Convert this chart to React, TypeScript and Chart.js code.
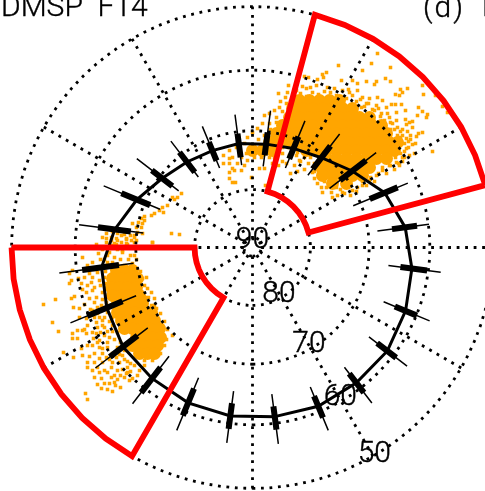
import React, { useEffect, useRef } from "react";
import { Chart, registerables } from "chart.js";

Chart.register(...registerables);

const mltBins = [0.5,1.5,2.5,3.5,4.5,5.5,6.5,7.5,8.5,9.5,10.5,11.5,12.5,13.5,14.5,15.5,16.5,17.5,18.5,19.5,20.5,21.5,22.5,23.5];
const latMid = [61.1,60.9,61.1,61.2,61.9,62.7,63.8,65.6,68.5,70.6,71.6,72.1,72,72,71.5,70.5,68.6,66.3,64.1,63.2,62.3,62,61.5,61.2];
const latBarHigh = [62.8,62.7,63,63.3,63.8,64.6,66,68.3,71.1,73,73.5,74,74.35,73.85,73.7,72.65,71,69,67,66,65.3,64.3,64,63.3];
const latBarLow = [59,58.9,59.1,59.4,59.9,60.2,61.85,63.3,65.6,68.1,69.45,70.1,70.3,70.45,69.45,68.3,65.8,63.5,60.9,59.75,59.6,59.1,59.25,59.1];
const latWhiskerHigh = [64.8,64.3,64.3,65,65.8,66.6,68.45,71.3,73.3,74.35,75.2,75.9,75.7,75.2,74.7,74,72.8,71.1,69.45,68.45,67.45,66.6,65.95,65.3];
const latWhiskerLow = [56.7,56.7,57,57.2,57.7,58,59.9,61.5,63.5,65.6,66.6,66.45,67.1,67.6,67.1,65.15,62.65,60.4,57.2,56.85,56.7,56.85,56.7,56.85];

const gridLats = [50,60,70,80,88.5];
const gridMlts = [0,2,4,6,8,10,12,14,16,18,20,22];
const latLabels = ["50","60","70","80"];
const latLabelShift = [0.4,0.9,1.05,1.05];
const sectorDawn = [7,7.5,8,8.5,9,9.5,10,10.5,11];
const sectorDusk = [18,18.5,19,19.5,20,20.5,21,21.5,22];
const sectorLatLow = 50;
const sectorLatHigh = 80;

// Orange particle cloud, plane coordinates east / north of the pole.
const dawnCoreX = [47,57,67,77,87,40,50,60,70,80,90,100,37,47,57,67,77,87,97,107,117,30,40,50,60,70,80,90,100,110,120,129,24,34,44,54,64,74,84,94,104,114,124,134,17,27,37,47,57,67,77,87,97,107,117,127,137,145,0,10,20,54,64,74,84,94,104,114,124,134,142,74,84,94,104,114,124,134,69,77,87,97,107,117,70,80,90,100,110,80,94];
const dawnCoreY = [147,147,147,147,147,139,139,139,139,139,139,139,130,130,130,130,130,130,130,130,130,122,122,122,122,122,122,122,122,122,122,122,114,114,114,114,114,114,114,114,114,114,114,114,105,105,105,105,105,105,105,105,105,105,105,105,105,105,97,97,97,97,97,97,97,97,97,97,97,97,97,89,89,89,89,89,89,89,80,80,80,80,80,80,72,72,72,72,72,64,64];
const duskCoreX = [-136,-128,-120,-140,-131,-123,-115,-141,-133,-125,-116,-140,-131,-123,-113,-135,-126,-118,-110,-135,-126,-118,-110,-101,-131,-123,-115,-106,-98,-128,-120,-111,-103,-93,-116,-108,-100,-92,-120,-111,-103,-95,-113,-105,-98];
const duskCoreY = [-23,-23,-23,-31,-31,-31,-31,-40,-40,-40,-40,-48,-48,-48,-48,-56,-56,-56,-56,-65,-65,-65,-65,-65,-73,-73,-73,-73,-73,-81,-81,-81,-81,-81,-90,-90,-90,-90,-98,-98,-98,-98,-106,-106,-106];
const dawnDotX = [125,119,110,86,74,70,52,56,65,71,89,105,100,114,124,122,133,138,138,148,150,155,170,183,171,166,170,175,174,165,190,195,147,143,139,143,149,153,144,157,160,154,145,170,166,163,160,162,157,180,164,26,36,42,54,97,105,110,117,125,130,124,134,137,144,135,129,122,114,109,150,154,145,154,150,144,137,130,124,117,110,100,90,80,70,69,79,85,62,65,60,97,105,47,52,42,34,45,37,30,30,25,22,17,9,2,12,7,-1,13,34,27,22,17,12,24,10,5,0,17];
const dawnDotY = [194,184,177,182,175,173,171,170,168,170,167,164,167,166,166,163,169,166,180,158,155,159,162,152,153,140,136,133,130,132,141,135,152,153,143,143,143,137,135,125,126,123,120,115,114,104,103,94,92,96,111,154,162,158,159,155,157,150,149,150,147,142,140,130,127,134,134,137,144,140,112,109,112,99,90,85,82,77,72,67,62,57,55,50,55,60,55,52,69,64,75,62,60,87,90,82,84,95,92,94,100,95,90,90,90,90,79,79,70,62,144,140,137,134,132,130,124,119,115,124];
const dawnFringeX = [62,66,72,74,84,88,92,98,104,110,114,118,122,126,130,134,138,142,146,150,148,152,156,158,152,148,142,140,138,42,48,54,60,66,72,78,84,90,94,100,104,108,112,116,120,126,128,132,138,33,38,28,30,24,18,12,6,20,13,40,44,36,46,30,24,48,56,58,62,64,52,45,38,30,26,20,155,150,158,148,153,160,156,143,152,147,35,44,50,58,64,75,82,96];
const dawnFringeY = [76,71,66,60,60,58,54,52,56,66,62,70,66,74,80,74,82,78,84,86,94,96,100,108,104,116,118,124,118,152,154,151,155,153,156,155,152,157,149,152,146,148,141,144,138,139,131,127,125,150,146,146,136,125,118,112,108,110,104,96,92,100,100,106,104,86,84,90,84,80,78,76,74,86,82,84,116,118,112,110,128,120,106,90,90,82,155,157,161,160,162,160,159,158];
const noonDotX = [-23,-29,-29,-23,-20,-15,-20,-23,-18,-11,-8,-5,-13,-5,-8,-16,-23,-20,-17,-6,-11,-23];
const noonDotY = [97,92,84,89,90,84,79,75,77,77,82,87,97,110,104,100,69,65,65,94,90,84];
const tailDotX = [-71,-75,-78,-80,-85,-90,-93,-89,-98,-101,-108,-111,-114,-110,-116,-120,-111,-108,-115,-110,-118,-121,-126,-131,-136,-141,-146,-138,-126,-118,-100,-81,-73];
const tailDotY = [54,50,48,50,42,40,37,35,34,32,31,29,25,24,20,24,20,27,15,14,10,7,9,5,9,7,5,4,4,5,5,14,13];
const duskDotX = [-209,-197,-200,-194,-189,-179,-167,-165,-181,-179,-173,-178,-170,-160,-154,-156,-150,-141,-135,-126,-118,-116,-100,-118,-116,-116,-183,-183,-181,-174,-171,-180,-163,-168,-161,-166,-160,-153,-156,-163,-168,-173,-170,-175,-180,-180,-175,-168,-166,-156,-159,-153,-171,-165,-158,-153,-170,-163,-165,-165,-158,-153,-146,-140,-133,-141,-135,-126,-120,-128,-123,-160,-158,-153,-148,-151,-155,-151,-143,-138,-145,-140,-132,-137,-125,-113,-101,-98,-101,-96,-107,-105,-110,-116,-80,-145,-140,-156,-153,-160,-151,-150,-140,-143,-136,-150,-160,-166,-150,-145,-155,-148,-143,-150,-146,-155,-145,-140,-148,-152,-145,-135,-138,-132,-128,-133,-128,-122,-118,-125,-130,-148,-143,-130,-124,-135,-128,-150,-140,-146,-128,-135];
const duskDotY = [-57,-52,-75,-84,-105,-110,-146,-152,-51,-60,-61,-49,-10,-15,-6,3,10,10,7,8,12,7,5,-8,-12,-21,-26,-36,-33,-31,-36,-23,-26,-30,-35,-45,-43,-33,-50,-51,-57,-70,-83,-83,-86,-91,-91,-82,-86,-86,-91,-93,-101,-98,-106,-100,-108,-109,-115,-120,-115,-111,-110,-115,-115,-120,-123,-126,-131,-130,-133,-123,-130,-125,-123,-131,-137,-141,-136,-135,-142,-144,-140,-138,-125,-123,-45,-51,-58,-61,-50,-41,-31,-26,-88,-100,-106,-75,-70,-63,-58,-73,-78,-90,-110,-101,-98,-71,-20,-15,-25,-30,-40,-45,-55,-60,-65,-70,-80,-85,-84,-85,-92,-95,-103,-107,-112,-116,-118,-120,-122,-12,-5,-5,-12,-2,0,-2,2,14,13,14];
const duskFringeX = [-165,-158,-152,-147,-160,-152,-146,-158,-165,-170,-150,-158,-148,-162,-155,-148,-143,-158,-165,-155,-150,-160,-148,-140,-155,-145,-150,-143,-135,-130,-125,-150,-155,-145,-138,-132,-148,-141,-135,-115,-122,-108,-145,-138,-132,-128,-122,-120,-140,-135,-145,-130,-136,-125,-122,-131,-140,-146,-106,-108,-104,-98,-92,-88,-85,-86,-88,-92,-100,-108,-112];
const duskFringeY = [-18,-22,-12,-24,-30,-38,-36,-40,-38,-42,-52,-55,-60,-62,-66,-70,-74,-70,-78,-80,-78,-85,-88,-84,-95,-95,-106,-112,-100,-108,-114,-115,-120,-125,-128,-128,-136,-130,-132,-128,-124,-118,-8,-10,-12,-18,-8,-16,-15,-17,-18,-3,3,3,12,12,16,9,-30,-38,-50,-58,-66,-74,-82,-92,-98,-106,-113,-113,-24];

const K = 662;
const ORANGE = "#FFA500";
const DEG = Math.PI / 180;
const project = (mlt: number, lat: number) => {
  const r = K * Math.tan(((90 - lat) / 2) * DEG);
  const a = mlt * 15 * DEG;
  return { x: r * Math.sin(a), y: -r * Math.cos(a) };
};
const GAP = { x: NaN, y: NaN };
const zip = (xs: number[], ys: number[]) => xs.map((x, i) => ({ x, y: ys[i] }));
const segments = (hi: number[], lo: number[]) =>
  mltBins.flatMap((m, i) => [project(m, hi[i]), project(m, lo[i]), GAP]);
const ringHours = Array.from({ length: 97 }, (_, i) => i / 4);
const sector = (hours: number[]) => [
  ...hours.map((h) => project(h, sectorLatLow)),
  ...[...hours].reverse().map((h) => project(h, sectorLatHigh)),
  project(hours[0], sectorLatLow),
];
const line = (data: any[], color: string, width: number, extra: any = {}) => ({
  data, showLine: true, borderColor: color, borderWidth: width, pointRadius: 0,
  tension: 0, spanGaps: false, fill: false, borderCapStyle: "butt", borderJoinStyle: "miter", ...extra,
});
const dots = (data: any[], radius: number, style: string) => ({
  data, showLine: false, pointStyle: style, pointRadius: radius,
  backgroundColor: ORANGE, borderWidth: 0, pointBorderWidth: 0,
});

const FONT = '300 30px Roboto, "Liberation Sans", sans-serif';

const textPlugin = {
  id: "texts",
  afterDatasetsDraw(chart: any) {
    const { ctx, scales } = chart;
    const at = (p: { x: number; y: number }) => [scales.x.getPixelForValue(p.x), scales.y.getPixelForValue(p.y)];
    const put = (t: string, x: number, y: number) => {
      ctx.fillText(t, x, y);
      ctx.strokeText(t, x, y);
    };
    ctx.save();
    ctx.fillStyle = "#000";
    ctx.strokeStyle = "#000";
    ctx.lineWidth = 0.4;
    ctx.font = FONT;
    ctx.textAlign = "center";
    ctx.textBaseline = "middle";
    latLabels.forEach((t, i) => {
      const [x, y] = at(project(2.05, Number(t) + latLabelShift[i]));
      put(t, x, y + 2);
    });
    const [cx, cy] = at({ x: 0, y: 0 });
    put("90", cx, cy - 7);
    ctx.textAlign = "left";
    ctx.textBaseline = "alphabetic";
    put("DMSP  F14", 1, 16);
    ctx.letterSpacing = "2px";
    put("(d)", 423, 17);
    ctx.letterSpacing = "0px";
    put("F", 482, 16);
    ctx.restore();
  },
};

export default function App() {
  const ref = useRef<HTMLCanvasElement>(null);
  useEffect(() => {
    document.body.style.margin = "0";
    const rings = gridLats.flatMap((lat) => [...ringHours.map((h) => project(h, lat)), GAP]);
    const rays = gridMlts.flatMap((m) => [project(m, gridLats[4]), project(m, gridLats[0]), GAP]);
    const dash = { borderDash: [2.8, 5.7] };
    const chart = new Chart(ref.current as HTMLCanvasElement, {
      type: "scatter",
      data: {
        datasets: [
          line(sector(sectorDawn), "#FF0000", 5.8),
          line(sector(sectorDusk), "#FF0000", 5.8),
          line([...mltBins, mltBins[0]].map((m, i) => project(m, latMid[i % 24])), "#000", 3),
          line(segments(latBarHigh, latBarLow), "#000", 6),
          line(segments(latWhiskerHigh, latWhiskerLow), "#000", 1.5),
          line(rings, "#000", 2.8, dash),
          line(rays, "#000", 2.8, dash),
          dots(zip(dawnDotX, dawnDotY), 2.5, "rect"),
          dots(zip(dawnFringeX, dawnFringeY), 2.5, "rect"),
          dots(zip(noonDotX, noonDotY), 2.5, "rect"),
          dots(zip(tailDotX, tailDotY), 2.5, "rect"),
          dots(zip(duskDotX, duskDotY), 2.5, "rect"),
          dots(zip(duskFringeX, duskFringeY), 2.5, "rect"),
          dots(zip(dawnCoreX, dawnCoreY), 6.5, "circle"),
          dots(zip(duskCoreX, duskCoreY), 6.5, "circle"),
        ] as any,
      },
      options: {
        animation: false,
        responsive: false,
        devicePixelRatio: 1,
        layout: { padding: 0, autoPadding: false },
        plugins: { legend: { display: false }, tooltip: { enabled: false }, title: { display: false } },
        scales: {
          x: { type: "linear", display: false, bounds: "data", min: -252.5, max: 232.5 },
          y: { type: "linear", display: false, bounds: "data", min: -243.5, max: 247.5 },
        },
      },
      plugins: [textPlugin],
    } as any);
    return () => chart.destroy();
  }, []);
  return (
    <canvas
      ref={ref}
      width={485}
      height={491}
      style={{ display: "block", width: 485, height: 491, background: "#fff" }}
    />
  );
}
